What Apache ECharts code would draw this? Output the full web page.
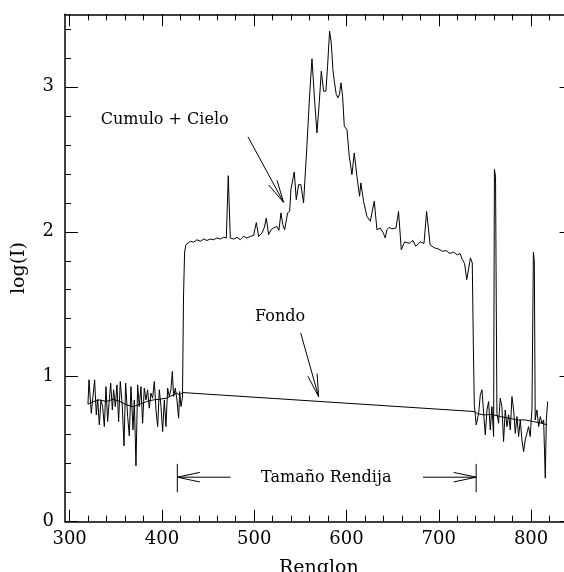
<!DOCTYPE html>
<html>
<head>
<meta charset="utf-8">
<script src="https://cdn.jsdelivr.net/npm/echarts@6/dist/echarts.min.js"></script>
<style>html,body{margin:0;padding:0;background:#fff;overflow:hidden}#main{width:564px;height:572px}</style>
</head>
<body>
<div id="main"></div>
<script>
// ---- axis ranges and ticks ----
const xMin = 295, xMax = 845, yMin = 0, yMax = 3.5;
const xMajorTicks = [300, 400, 500, 600, 700, 800];
const xMinorTicks = [300,320,340,360,380,400,420,440,460,480,500,520,540,560,580,600,620,640,660,680,700,720,740,760,780,800,820,840];
const yMajorTicks = [0, 1, 2, 3];
const yMinorTicks = [0,0.2,0.4,0.6,0.8,1,1.2,1.4,1.6,1.8,2,2.2,2.4,2.6,2.8,3,3.2,3.4];

// ---- "Cumulo + Cielo" trace (row, log I) ----
const traceX = [319.9,321.0,323.5,325.3,327.1,328.9,330.4,332.2,334.0,335.8,337.6,339.4,341.2,343.0,344.5,346.3,347.7,349.5,351.3,353.1,354.9,357.1,358.9,360.7,362.9,364.7,366.5,368.7,370.1,371.9,373.7,375.5,377.3,379.1,380.9,382.7,384.5,386.3,388.1,389.9,391.8,393.6,395.4,397.2,399.0,400.8,402.6,404.4,406.2,408.0,409.8,411.3,412.7,414.5,416.3,418.1,419.2,420.7,422.3,423.4,424.6,426.0,
427.2,430.8,434.4,438.0,441.6,445.2,448.8,452.4,456.0,459.6,463.3,466.9,469.8,471.9,474.1,477.7,481.3,484.9,488.5,492.1,495.8,499.4,502.3,504.8,508.4,511.0,513.1,515.6,518.2,521.0,524.6,526.8,529.0,531.0,533.0,536.2,538.4,539.8,541.5,543.4,545.6,548.1,550.6,553.5,557.1,560.0,562.6,565.5,568.0,570.5,572.7,575.2,577.7,579.5,581.7,583.5,585.3,586.8,588.9,590.7,592.5,594.0,595.8,597.6,600.5,603.0,605.9,608.4,611.3,614.2,615.6,618.5,622.1,625.8,630.1,633.0,636.6,640.0,642.0,643.8,646.0,649.2,653.6,656.4,659.4,663.0,668.0,672.0,675.0,680.0,684.0,686.8,690.6,695.0,700.0,704.0,708.0,712.0,716.0,720.0,723.0,725.7,728.0,730.3,732.5,734.3,736.3,737.5,738.5,
740.6,743.2,745.0,746.8,748.6,750.4,752.2,754.0,755.8,757.6,759.4,760.3,761.5,763.0,764.8,766.6,768.4,770.2,772.0,773.9,775.7,777.5,779.3,781.1,782.9,784.7,786.5,788.3,790.1,791.9,793.7,795.5,797.3,799.1,801.0,802.5,803.5,804.5,806.3,808.2,810.0,811.8,813.6,815.4,816.5,818.0];
const traceY = [0.811,0.979,0.748,0.864,0.979,0.737,0.845,0.668,0.840,0.794,0.656,0.932,0.691,0.840,0.956,0.771,0.910,0.794,0.944,0.691,0.967,0.794,0.523,0.956,0.725,0.592,0.932,0.633,0.840,0.385,0.944,0.794,0.932,0.679,0.921,0.840,0.910,0.783,0.887,0.852,0.967,0.771,0.656,0.910,0.794,0.622,0.840,0.656,0.921,0.864,0.910,1.036,0.864,0.921,0.840,0.714,0.898,0.794,0.86,1.55,1.86,1.91,
1.923,1.934,1.928,1.945,1.934,1.950,1.940,1.950,1.945,1.957,1.950,1.962,1.957,2.387,1.957,1.950,1.962,1.945,1.968,1.957,1.968,1.975,2.063,1.968,1.991,2.03,2.095,1.980,2.014,2.026,2.037,2.01,2.130,2.05,2.014,2.13,2.141,2.291,2.28,2.413,2.222,2.325,2.325,2.199,2.59,2.935,3.193,2.9,2.682,2.89,3.108,2.970,2.970,3.142,3.384,3.304,3.119,3.039,2.947,2.924,2.95,3.027,2.935,2.728,2.705,2.521,2.394,2.544,2.383,2.245,2.337,2.210,2.107,2.072,2.210,2.014,2.026,1.99,1.957,2.014,2.03,2.02,2.026,2.14,1.876,1.93,1.92,1.94,1.90,1.93,1.92,2.14,1.91,1.89,1.88,1.865,1.87,1.85,1.86,1.84,1.85,1.807,1.78,1.67,1.75,1.82,1.785,1.2,0.806,
0.668,0.748,0.875,0.910,0.748,0.599,0.771,0.829,0.633,0.794,0.587,2.43,2.38,0.748,0.679,0.852,0.794,0.553,0.771,0.656,0.737,0.633,0.863,0.771,0.610,0.725,0.587,0.702,0.564,0.483,0.564,0.610,0.656,0.587,0.783,1.86,1.80,0.702,0.771,0.656,0.725,0.679,0.702,0.300,0.702,0.829];

// ---- "Fondo" (background) trace ----
const fondoX = [319.9,325.6,332.8,340.1,347.3,354.5,361.7,369.0,376.2,383.4,390.6,397.8,405.1,412.3,415.9,419.5,422.0,738.5,742.0,748.6,757.6,766.6,775.7,784.7,793.7,802.7,811.8,817.2];
const fondoY = [0.811,0.829,0.840,0.829,0.845,0.829,0.806,0.794,0.811,0.829,0.840,0.845,0.852,0.875,0.887,0.875,0.891,0.760,0.745,0.737,0.740,0.725,0.715,0.702,0.702,0.690,0.679,0.668];

// ---- annotations (data coordinates) ----
const labelCumulo = {text: 'Cumulo + Cielo', x: 403, y: 2.774};
const arrowCumulo = {from: [493.3, 2.655], to: [531.8, 2.203]};
const labelFondo = {text: 'Fondo', x: 528, y: 1.41};
const arrowFondo = {from: [550.4, 1.301], to: [569.8, 0.863]};
const labelSlit = {text: 'Tamaño Rendija', x: 578.1, y: 0.305};
const slitEdges = [416.7, 740.5];
const slitInner = [474.3, 682.9];
const slitY = 0.307, slitBarTop = 0.399, slitBarBottom = 0.203;

const FONT = '"DejaVu Serif", "Liberation Serif", serif';
const zip = (a, b) => a.map((v, i) => [v, b[i]]);

function xAx(pos, ticks, len, showLine, showLabels) {
  return {
    type: 'value', position: pos, offset: 0, min: xMin, max: xMax,
    axisLine: {show: showLine, onZero: false, lineStyle: {color: '#000', width: 1.5}},
    axisTick: {show: true, inside: true, length: len, customValues: ticks, lineStyle: {color: '#000', width: 1}},
    axisLabel: showLabels ? {show: true, customValues: xMajorTicks, color: '#000', fontFamily: FONT, fontSize: 18, margin: 9} : {show: false},
    splitLine: {show: false}
  };
}
function yAx(pos, ticks, len, showLine, showLabels) {
  return {
    type: 'value', position: pos, offset: 0, min: yMin, max: yMax,
    axisLine: {show: showLine, onZero: false, lineStyle: {color: '#000', width: 1.5}},
    axisTick: {show: true, inside: true, length: len, customValues: ticks, lineStyle: {color: '#000', width: 1}},
    axisLabel: showLabels ? {show: true, customValues: yMajorTicks, color: '#000', fontFamily: FONT, fontSize: 18, margin: 11} : {show: false},
    splitLine: {show: false}
  };
}

const xAxes = [xAx('bottom', xMajorTicks, 12, true, true), xAx('bottom', xMinorTicks, 6, false, false),
               xAx('top', xMajorTicks, 12, true, false), xAx('top', xMinorTicks, 6, false, false)];
xAxes[0].name = 'Renglon';
xAxes[0].nameLocation = 'middle';
xAxes[0].nameGap = 37;
xAxes[0].nameTextStyle = {color: '#000', fontFamily: FONT, fontSize: 19};
const yAxes = [yAx('left', yMajorTicks, 13, true, true), yAx('left', yMinorTicks, 6, false, false),
               yAx('right', yMajorTicks, 13, true, false), yAx('right', yMinorTicks, 6, false, false)];
yAxes[0].name = 'log(I)';
yAxes[0].nameLocation = 'middle';
yAxes[0].nameGap = 36;
yAxes[0].nameTextStyle = {color: '#000', fontFamily: FONT, fontSize: 19};

const chart = echarts.init(document.getElementById('main'), null, {renderer: 'canvas'});
chart.setOption({
  animation: false,
  backgroundColor: '#fff',
  grid: {left: 65, right: -8.6, top: 14.3, bottom: 50.3, containLabel: false, outerBoundsMode: 'none'},
  xAxis: xAxes,
  yAxis: yAxes,
  series: [
    {type: 'line', xAxisIndex: 0, yAxisIndex: 0, data: zip(traceX, traceY), showSymbol: false, symbol: 'none',
     lineStyle: {color: '#000', width: 1}, silent: true, clip: false},
    {type: 'line', xAxisIndex: 0, yAxisIndex: 0, data: zip(fondoX, fondoY), showSymbol: false, symbol: 'none',
     lineStyle: {color: '#000', width: 1}, silent: true, clip: false}
  ]
});

const P = (x, y) => chart.convertToPixel({seriesIndex: 0}, [x, y]);
const els = [];
function seg(a, b) {
  els.push({type: 'line', silent: true, shape: {x1: a[0], y1: a[1], x2: b[0], y2: b[1]}, style: {stroke: '#000', lineWidth: 1}});
}
function head(tip, tail) {
  const dx = tail[0] - tip[0], dy = tail[1] - tip[1];
  const L = Math.hypot(dx, dy), ux = dx / L, uy = dy / L, len = 23, ang = 12 * Math.PI / 180;
  [ang, -ang].forEach(a => {
    const c = Math.cos(a), s = Math.sin(a);
    seg(tip, [tip[0] + len * (ux * c - uy * s), tip[1] + len * (ux * s + uy * c)]);
  });
}
function txt(l) {
  const p = P(l.x, l.y);
  els.push({type: 'text', silent: true, x: p[0], y: p[1],
    style: {text: l.text, fill: '#000', font: '16px ' + FONT, align: 'center', verticalAlign: 'middle'}});
}
[arrowCumulo, arrowFondo].forEach(a => {
  const t = P(a.from[0], a.from[1]), h = P(a.to[0], a.to[1]);
  seg(t, h); head(h, t);
});
const lTop = P(slitEdges[0], slitBarTop), lBot = P(slitEdges[0], slitBarBottom);
const rTop = P(slitEdges[1], slitBarTop), rBot = P(slitEdges[1], slitBarBottom);
seg(lTop, lBot); seg(rTop, rBot);
const lTip = P(slitEdges[0], slitY), lEnd = P(slitInner[0], slitY);
const rTip = P(slitEdges[1], slitY), rEnd = P(slitInner[1], slitY);
seg(lTip, lEnd); head(lTip, lEnd);
seg(rTip, rEnd); head(rTip, rEnd);
txt(labelCumulo); txt(labelFondo); txt(labelSlit);
chart.setOption({graphic: {elements: els}});
</script>
</body>
</html>
